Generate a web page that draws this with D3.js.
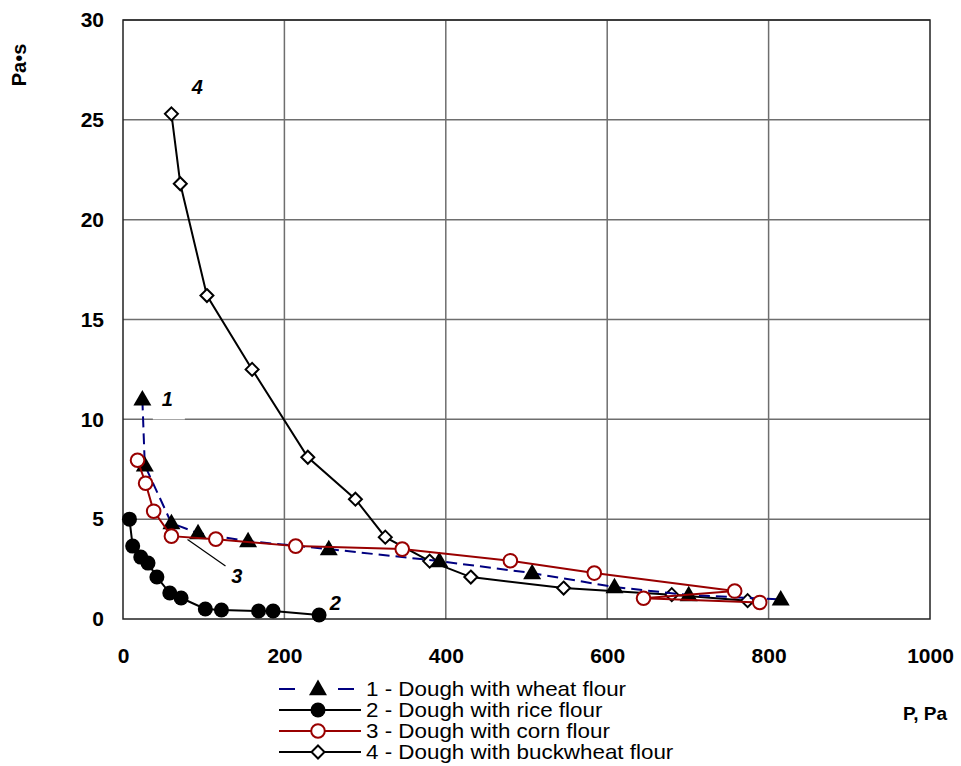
<!DOCTYPE html>
<html>
<head>
<meta charset="utf-8">
<script src="https://cdn.jsdelivr.net/npm/d3@7"></script>
<style>
  body { margin: 0; background: #fff; }
  svg { font-family: "Liberation Sans", Arial, sans-serif; }
</style>
</head>
<body>
<svg id="chart" width="961" height="766"></svg>
<script>
// Data: P (Pa) vs viscosity (Pa·s)
const wheatP   = [24, 27, 60, 93, 155, 255, 392, 507, 609, 701, 815];
const wheatEta = [11.0, 7.7, 4.8, 4.3, 3.9, 3.5, 2.9, 2.3, 1.6, 1.2, 0.98];

const riceP   = [8, 12, 22, 31, 42, 58, 72, 102, 122, 168, 186, 243];
const riceEta = [5.0, 3.65, 3.1, 2.8, 2.1, 1.3, 1.05, 0.5, 0.45, 0.4, 0.4, 0.2];

const cornP   = [18, 28, 38, 60, 115, 214, 346, 480, 584, 758, 645, 789];
const cornEta = [7.95, 6.8, 5.4, 4.15, 4.0, 3.65, 3.5, 2.92, 2.3, 1.4, 1.04, 0.83];

const buckP   = [60, 71, 104, 160, 229, 288, 325, 380, 431, 546, 680, 774];
const buckEta = [25.3, 21.8, 16.2, 12.5, 8.1, 6.0, 4.1, 2.9, 2.1, 1.55, 1.22, 0.92];

const xTicks = [0, 200, 400, 600, 800, 1000];
const yTicks = [0, 5, 10, 15, 20, 25, 30];
const legendLabels = [
  "1 - Dough with wheat flour",
  "2 - Dough with rice flour",
  "3 - Dough with corn flour",
  "4 - Dough with buckwheat flour"
];

const zip = (xs, ys) => xs.map((x, i) => ({x: x, y: ys[i]}));

const series = [
  {key: "1", pts: zip(wheatP, wheatEta), stroke: "#000080", dash: "11,6", legendDash: "16,43,16,30", marker: "triangle"},
  {key: "2", pts: zip(riceP, riceEta), stroke: "#000000", dash: null, marker: "dot"},
  {key: "3", pts: zip(cornP, cornEta), stroke: "#990000", dash: null, marker: "ring"},
  {key: "4", pts: zip(buckP, buckEta), stroke: "#000000", dash: null, marker: "diamond"}
];

const margin = {top: 20, left: 123, right: 31, bottom: 147};
const width = 961 - margin.left - margin.right,
      height = 766 - margin.top - margin.bottom;

const svg = d3.select("#chart");
const g = svg.append("g").attr("transform", `translate(${margin.left},${margin.top})`);

const x = d3.scaleLinear().domain([0, 1000]).range([0, width]);
const y = d3.scaleLinear().domain([0, 30]).range([height, 0]);

// grid
g.selectAll(".vgrid").data(xTicks.slice(1, -1)).enter().append("line")
  .attr("x1", d => x(d)).attr("x2", d => x(d))
  .attr("y1", 0).attr("y2", height)
  .attr("stroke", "#6e6e6e").attr("stroke-width", 1.5);
g.selectAll(".hgrid").data(yTicks.slice(1)).enter().append("line")
  .attr("x1", 0).attr("x2", width)
  .attr("y1", d => y(d)).attr("y2", d => y(d))
  .attr("stroke", "#6e6e6e").attr("stroke-width", 1.5);

g.append("rect").attr("width", width).attr("height", height)
  .attr("fill", "none").attr("stroke", "#222").attr("stroke-width", 1.5);

// axes (labels only)
const xAxis = g.append("g").attr("transform", `translate(0,${height})`)
  .call(d3.axisBottom(x).tickValues(xTicks).tickFormat(d3.format("d")).tickSize(0).tickPadding(29));
const yAxis = g.append("g")
  .call(d3.axisLeft(y).tickValues(yTicks).tickFormat(d3.format("d")).tickSize(0).tickPadding(19));
[xAxis, yAxis].forEach(a => {
  a.select(".domain").remove();
  a.attr("font-size", 21).attr("font-family", null);
  a.selectAll("text").attr("font-weight", "bold").attr("fill", "#000");
});

svg.append("text").attr("x", 925).attr("y", 720).attr("text-anchor", "middle")
  .attr("font-size", 19).attr("font-weight", "bold").text("P, Pa");
svg.append("text").attr("transform", "translate(26,65) rotate(-90)").attr("text-anchor", "middle")
  .attr("font-size", 20).attr("font-weight", "bold").text("Pa•s");

// markers
function drawMarker(sel, type, stroke) {
  if (type === "triangle") {
    sel.append("path").attr("d", d3.symbol().type(d3.symbolTriangle).size(140))
      .attr("transform", "translate(0,1)").attr("fill", "#000");
  } else if (type === "dot") {
    sel.append("circle").attr("r", 7.5).attr("fill", "#000");
  } else if (type === "ring") {
    sel.append("circle").attr("r", 6.8).attr("fill", "#fff")
      .attr("stroke", stroke).attr("stroke-width", 2);
  } else {
    sel.append("path").attr("d", "M0,-6.5L6.5,0L0,6.5L-6.5,0Z")
      .attr("fill", "#fff").attr("stroke", "#000").attr("stroke-width", 2);
  }
}

const line = d3.line().x(d => x(d.x)).y(d => y(d.y));

// drawing order: 4, 2, 1, 3
[series[3], series[1], series[0], series[2]].forEach(s => {
  g.append("path").datum(s.pts).attr("d", line)
    .attr("fill", "none").attr("stroke", s.stroke).attr("stroke-width", 2)
    .attr("stroke-dasharray", s.dash);
  g.selectAll(null).data(s.pts).enter().append("g")
    .attr("transform", d => `translate(${x(d.x)},${y(d.y)})`)
    .each(function() { drawMarker(d3.select(this), s.marker, s.stroke); });
});

// curve labels
g.append("rect").attr("x", x(37)).attr("y", y(11.8)).attr("width", 32).attr("height", 36).attr("fill", "#fff");
const lbl = (t, px, py) => g.append("text").attr("x", x(px)).attr("y", y(py))
  .attr("text-anchor", "middle").attr("font-size", 20).attr("font-weight", "bold")
  .attr("font-style", "italic").text(t);
lbl("1", 55, 10.65);
lbl("2", 263, 0.45);
lbl("3", 141, 1.8);
lbl("4", 92, 26.3);
g.append("line").attr("x1", x(80)).attr("y1", y(3.98)).attr("x2", x(127)).attr("y2", y(2.65))
  .attr("stroke", "#000").attr("stroke-width", 1.2);

// legend
const legend = svg.append("g").attr("transform", "translate(279,689)");
series.forEach((s, i) => {
  const row = legend.append("g").attr("transform", `translate(0,${i * 21})`);
  row.append("line").attr("x1", 0).attr("x2", 82).attr("y1", 0).attr("y2", 0)
    .attr("stroke", s.stroke).attr("stroke-width", 2).attr("stroke-dasharray", s.legendDash || null);
  const m = row.append("g").attr("transform", "translate(39,0)");
  drawMarker(m, s.marker, s.stroke);
  row.append("text").attr("transform", "translate(87,7) scale(1.12,1)")
    .attr("font-size", 20).text(legendLabels[i]);
});
</script>
</body>
</html>
